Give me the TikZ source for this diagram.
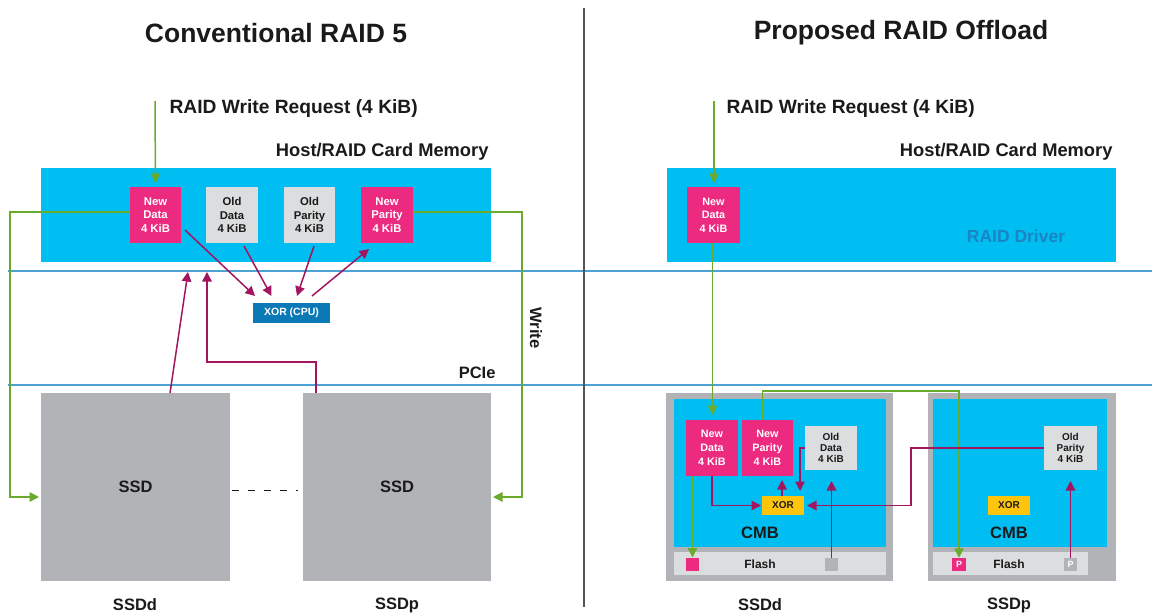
\documentclass[tikz,border=0pt]{standalone}
\usepackage{fontspec}
\setmainfont{Liberation Sans}
\usepackage{tikz}
\usetikzlibrary{arrows.meta, calc}
\definecolor{raidcyan}{HTML}{00BEF2}
\definecolor{raidpink}{HTML}{EC2A7F}
\definecolor{raidlight}{HTML}{DCDDDE}
\definecolor{raidgray}{HTML}{B1B3B6}
\definecolor{raidpurple}{HTML}{A1165F}
\definecolor{raidgreen}{HTML}{6AAB2E}
\definecolor{raidline}{HTML}{4BA3D5}
\definecolor{raidcpu}{HTML}{0C79B7}
\definecolor{raidyellow}{HTML}{FFC50D}
\definecolor{raiddriver}{HTML}{1A84C4}
\definecolor{raidtext}{HTML}{1A1A1A}
\newcommand{\raidfont}[2]{\fontsize{#1}{#2}\selectfont\bfseries}

\begin{document}
\begin{tikzpicture}[
    x=1pt, y=-1pt,
    blk/.style={inner sep=0pt, outer sep=0pt, align=center},
    newblk/.style={blk, fill=raidpink, text=white, font=\raidfont{11.3}{13.3}},
    oldblk/.style={blk, fill=raidlight, text=raidtext, font=\raidfont{11.3}{13.3}},
    xorblk/.style={blk, fill=raidyellow, text=raidtext, font=\raidfont{10}{12},
        minimum width=42pt, minimum height=19pt},
    ssdblk/.style={blk, fill=raidgray},
    label/.style={text=raidtext, font=\raidfont{16.5}{18}},
    wire/.style={raidgreen, line width=1.5pt, -{Triangle[length=9.5pt, width=9.5pt]}},
    flow/.style={raidpurple, line width=1.5pt, -{Triangle[length=9.5pt, width=9.5pt]}},
]
    \useasboundingbox (0,0) rectangle (1152,613);

    % Bus lines and divider
    \draw[raidline, line width=1.8pt] (8,271) -- (1152,271);
    \draw[raidline, line width=1.8pt] (8,385) -- (1152,385);
    \draw[raidtext!75, line width=1.2pt] (584,8) -- (584,607);

    % Titles
    \node[text=raidtext, font=\raidfont{26.5}{30}] (title1) at (276,33) {Conventional RAID 5};
    \node[text=raidtext, font=\raidfont{26.5}{30}] (title2) at (901,33) {Proposed RAID Offload};

    % ---------------- Conventional RAID 5 ----------------
    \node[text=raidtext, font=\raidfont{19.2}{22}, anchor=west] (req1) at (166,109) {RAID Write Request (4 KiB)};
    \node[text=raidtext, font=\raidfont{18.3}{22}, anchor=east] (host1) at (492,152) {Host/RAID Card Memory};
    \node[blk, fill=raidcyan, minimum width=450pt, minimum height=94pt] (mem1) at (266,215) {};

    \node[newblk, minimum width=51pt, minimum height=56pt] (nd1) at (155.5,215) {New\\Data\\4 KiB};
    \node[oldblk, minimum width=52pt, minimum height=56pt] (od1) at (232,215) {Old\\Data\\4 KiB};
    \node[oldblk, minimum width=51pt, minimum height=56pt] (op1) at (309.5,215) {Old\\Parity\\4 KiB};
    \node[newblk, minimum width=52pt, minimum height=56pt] (np1) at (387,215) {New\\Parity\\4 KiB};

    \node[blk, fill=raidcpu, text=white, font=\raidfont{10.5}{12},
        minimum width=77pt, minimum height=20pt] (cpu) at (291.5,313) {XOR (CPU)};

    \node[ssdblk, minimum width=189pt, minimum height=188pt, label] (ssd1) at (135.5,487) {SSD};
    \node[ssdblk, minimum width=188pt, minimum height=188pt, label] (ssd2) at (397,487) {SSD};
    \node[label] (ssd1name) at (135,605) {SSDd};
    \node[label] (ssd2name) at (397,605) {SSDp};

    \node[label, rotate=-90] (write) at (536,328) {Write};
    \node[label, anchor=east] (pcie) at (499,373) {PCIe};

    % write request and writes to the drives
    \coordinate (src1) at (155,101);
    \draw[wire] (src1) -- ($(nd1.north)+(0,-4)$);
    \coordinate (gl) at (10,497);
    \coordinate (gr) at (522,497);
    \draw[wire] ($(nd1.west)+(0,-3)$) -| (gl) -- ($(ssd1.west |- gl)+(-2,0)$);
    \draw[wire] ($(np1.east)+(0,-3)$) -| (gr) -- ($(ssd2.east |- gr)+(2,0)$);
    \draw[raidtext, line width=1pt, dash pattern=on 7pt off 9pt]
        ($(ssd1.east)+(2,3)$) -- ($(ssd2.west)+(-5,3)$);

    % reads and XOR on the CPU
    \coordinate (up1) at (188,272);
    \coordinate (up2) at (207,272);
    \draw[flow] ($(ssd1.north)+(34.5,0)$) -- (up1);
    \draw[flow] ($(ssd2.north west)+(13,0)$) |- ($(up2)+(0,90)$) -- (up2);
    \draw[flow] ($(nd1.south east)+(4,-13)$) -- ($(cpu.north west)+(2,-7)$);
    \draw[flow] ($(od1.south)+(12,3)$) -- ($(cpu.north)+(-20,-7)$);
    \draw[flow] ($(op1.south)+(4.5,3)$) -- ($(cpu.north)+(5.5,-7)$);
    \draw[flow] ($(cpu.north)+(20.5,-7)$) -- ($(np1.south west)+(8,6)$);

    % ---------------- Proposed RAID Offload ----------------
    \node[text=raidtext, font=\raidfont{19.2}{22}, anchor=west] (req2) at (723,109) {RAID Write Request (4 KiB)};
    \node[text=raidtext, font=\raidfont{18.3}{22}, anchor=east] (host2) at (1116,152) {Host/RAID Card Memory};
    \node[blk, fill=raidcyan, minimum width=449pt, minimum height=94pt] (mem2) at (891.5,215) {};
    \node[text=raiddriver, font=\raidfont{17.5}{20}] (driver) at (1016,236) {RAID Driver};
    \node[newblk, font=\raidfont{10.8}{13.3}, minimum width=53pt, minimum height=56pt] (nd2) at (713.5,215) {New\\Data\\4 KiB};

    % SSDd
    \node[ssdblk, minimum width=227pt, minimum height=188pt] (ssdd) at (779.5,487) {};
    \node[blk, fill=raidcyan, minimum width=212pt, minimum height=148pt] (cmbd) at (780,473) {};
    \node[blk, fill=raidlight, minimum width=212pt, minimum height=23pt] (flashd) at (780,563.5) {};
    \node[text=raidtext, font=\raidfont{12}{14}] (flashdtxt) at (760,564) {Flash};
    \node[label] (cmbdtxt) at (760,533) {CMB};
    \node[newblk, font=\raidfont{10.8}{14}, minimum width=52pt, minimum height=56pt] (nd3) at (712,448) {New\\Data\\4 KiB};
    \node[newblk, font=\raidfont{10.8}{14}, minimum width=51pt, minimum height=56pt] (np3) at (767.5,448) {New\\Parity\\4 KiB};
    \node[oldblk, font=\raidfont{10}{11}, minimum width=52pt, minimum height=44pt] (od3) at (831,448) {Old\\Data\\4 KiB};
    \node[xorblk] (xor3) at (783,505.5) {XOR};
    \node[blk, fill=raidpink, minimum size=13pt] (sqd1) at (692.5,564) {};
    \node[blk, fill=raidgray, minimum size=13pt] (sqd2) at (831.5,564) {};
    \node[label] (ssddname) at (760,605) {SSDd};

    % SSDp
    \node[ssdblk, minimum width=188pt, minimum height=188pt] (ssdp) at (1022,487) {};
    \node[blk, fill=raidcyan, minimum width=174pt, minimum height=148pt] (cmbp) at (1020,473) {};
    \node[blk, fill=raidlight, minimum width=155pt, minimum height=23pt] (flashp) at (1010.5,563.5) {};
    \node[text=raidtext, font=\raidfont{12}{14}] (flashptxt) at (1009,564) {Flash};
    \node[label] (cmbptxt) at (1009,533) {CMB};
    \node[oldblk, font=\raidfont{10}{11}, minimum width=53pt, minimum height=44pt] (op3) at (1070.5,448) {Old\\Parity\\4 KiB};
    \node[xorblk] (xor4) at (1009,505.5) {XOR};
    \node[blk, fill=raidpink, text=white, font=\raidfont{9}{10}, minimum size=13.5pt] (sqp1) at (959,564.5) {P};
    \node[blk, fill=raidgray, text=white, font=\raidfont{9}{10}, minimum size=13.5pt] (sqp2) at (1070.5,564.5) {P};
    \node[label] (ssdpname) at (1009,605) {SSDp};

    % data path into the drives
    \coordinate (src2) at (714,101);
    \draw[wire] (src2) -- ($(nd2.north)+(0.5,-4)$);
    \draw[wire] ($(nd2.south)+(-1,0)$) -- ($(nd2.south |- nd3.north)+(-1,-5)$);
    \draw[wire] (sqd1.north |- nd3.south) -- (sqd1.north);
    \coordinate (gtop) at (959,391);
    \draw[wire] ($(np3.north)+(-5,0)$) |- (gtop) -- (sqp1.north);

    % XOR inside the drive
    \draw[flow] (nd3.south) |- ($(xor3.west)+(-1,0)$);
    \draw[flow] ($(xor3.north)+(-1,0)$) -- ($(xor3.north |- np3.south)+(-1,4)$);
    \draw[flow] (od3.west) -| ($(xor3.north east)+(-4,-5)$);
    \draw[flow] (sqd2.north) -- ($(sqd2.north |- od3.south)+(0,11)$);
    \coordinate (pb) at (911,505.5);
    \draw[flow] (op3.west) -| (pb) -- ($(xor3.east)+(3,0)$);
    \draw[flow] (sqp2.north) -- ($(sqp2.north |- op3.south)+(0,11)$);
\end{tikzpicture}
\end{document}
